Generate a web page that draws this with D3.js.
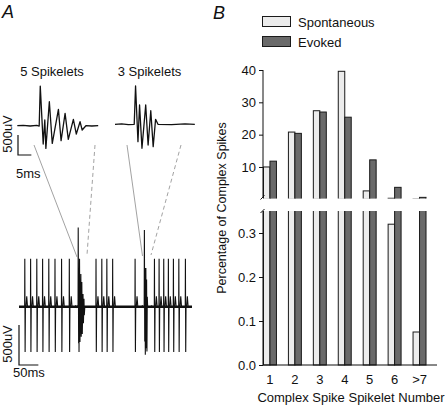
<!DOCTYPE html>
<html><head><meta charset="utf-8">
<script src="https://cdn.jsdelivr.net/npm/d3@7"></script>
<style>
html,body{margin:0;padding:0;background:#fff;}
svg{display:block;font-family:"Liberation Sans",Arial,Helvetica,sans-serif;}
</style></head><body>
<svg id="c" width="448" height="405"></svg>
<script>
// ---------- Panel B data ----------
const categories = ["1","2","3","4","5","6",">7"];
const seriesNames = ["Spontaneous","Evoked"];
const spontaneous = [10.0, 20.8, 27.4, 39.6, 2.6, 0.32, 0.075];
const evoked = [11.8, 20.4, 27.0, 25.4, 12.2, 3.7, 0.6];
const upperTicks = [10, 20, 30, 40];
const lowerTicks = [0.0, 0.1, 0.2, 0.3];

// ---------- Panel A data (time in ms, voltage in uV) ----------
const cs5Time = [0, 2.2, 4.8, 7.3, 8.2, 8.6, 9.7, 10.3, 10.7, 12.0, 13.1, 15.4, 16.4, 17.9, 19.1, 21.0, 22.1, 23.5, 24.3, 25.7, 27.9, 30.3];
const cs5Volt = [0, 10, -8, 10, -8, 990, -458, 142, -567, 600, -442, 408, -375, 308, -342, 158, -208, 100, -108, 0, -8, 0];
const cs3Time = [0, 2.5, 5.0, 7.2, 7.7, 8.6, 9.2, 10.1, 11.5, 12.4, 13.4, 14.3, 15.2, 16.1, 21.2, 26.2, 29.9];
const cs3Volt = [0, 10, -8, 0, 958, -435, 483, -600, 483, -518, 340, -560, 125, 0, -8, 10, 0];
const simpleSpikeTimes = [15, 30, 46, 61, 77, 93, 110, 130, 199, 214, 227, 242, 300, 350, 362, 374, 386, 399, 413, 430];
const complexSpikeTimes = [153, 324];
const simpleShapeTime = [-0.4, 0, 0.8, 1.6, 3, 5, 7];
const simpleShapeVolt = [0, 600, -565, 0, 0, 130, 0];
const traceDuration = 447;
const insetLabels = ["5 Spikelets", "3 Spikelets"];

const svg = d3.select("#c");
const ink = "#111";

// ================= Panel A =================
svg.append("text").attr("x", 2).attr("y", 18).attr("font-size", 18).attr("font-style", "italic").attr("fill", ink).text("A");

const insets = [
  {time: cs5Time, volt: cs5Volt, x0: 17.3, base: 125.7, label: insetLabels[0], lx: 52},
  {time: cs3Time, volt: cs3Volt, x0: 115, base: 124.3, label: insetLabels[1], lx: 149.5}
];
const pxPerMsInset = 2.67, pxPerUvInset = 0.04;
insets.forEach(ins => {
  const dur = d3.max(ins.time);
  const x = d3.scaleLinear().domain([0, dur]).range([ins.x0, ins.x0 + dur * pxPerMsInset]);
  const y = d3.scaleLinear().domain([-600, 1000]).range([ins.base + 600 * pxPerUvInset, ins.base - 1000 * pxPerUvInset]);
  const line = d3.line().x(d => x(d[0])).y(d => y(d[1]));
  svg.append("path").attr("d", line(d3.zip(ins.time, ins.volt)))
    .attr("fill", "none").attr("stroke", ink).attr("stroke-width", 1.3).attr("stroke-linejoin", "round");
  svg.append("text").attr("x", ins.lx).attr("y", 76).attr("text-anchor", "middle").attr("font-size", 13).attr("fill", ink).text(ins.label);
});

// inset scale bar
{
  const bx = 18, by = 155;
  svg.append("path").attr("d", `M${bx},${by - 500 * pxPerUvInset}V${by}H${bx + 5 * pxPerMsInset}`)
    .attr("fill", "none").attr("stroke", ink).attr("stroke-width", 1.2);
  svg.append("text").attr("transform", `translate(12,${by - 21}) rotate(-90)`).attr("text-anchor", "middle")
    .attr("font-size", 13).attr("fill", ink).text("500uV");
  svg.append("text").attr("x", 16).attr("y", 178).attr("font-size", 13).attr("fill", ink).text("5ms");
}

// long trace
const xL = d3.scaleLinear().domain([0, traceDuration]).range([19, 19 + traceDuration * 0.387]);
const yL = d3.scaleLinear().domain([-600, 1000]).range([306.7 + 600 * 0.08, 306.7 - 1000 * 0.08]);
const csWaves = [{time: cs5Time, volt: cs5Volt}, {time: cs3Time, volt: cs3Volt}];
const events = [];
simpleSpikeTimes.forEach(t => events.push({t, time: simpleShapeTime, volt: simpleShapeVolt, off: 0}));
complexSpikeTimes.forEach((t, i) => {
  const w = csWaves[i];
  events.push({t, time: w.time, volt: w.volt, off: w.time[d3.maxIndex(w.volt)]});
});
events.sort((a, b) => a.t - b.t);
const pts = [[0, 0]];
events.forEach(e => e.time.forEach((dt, j) => pts.push([e.t + dt - e.off, e.volt[j]])));
pts.push([traceDuration, 0]);
const lineL = d3.line().x(d => xL(d[0])).y(d => yL(d[1]));
svg.append("path").attr("d", lineL([[0, 0], [traceDuration, 0]]))
  .attr("stroke", ink).attr("stroke-width", 2.4).attr("fill", "none");
svg.append("path").attr("d", lineL(pts)).attr("fill", "none").attr("stroke", ink).attr("stroke-width", 1.1);

// long trace scale bar
{
  const bx = 19, by = 365;
  svg.append("path").attr("d", `M${bx},${by - 500 * 0.08}V${by}H${bx + 50 * 0.387}`)
    .attr("fill", "none").attr("stroke", ink).attr("stroke-width", 1.2);
  svg.append("text").attr("transform", `translate(12,${by - 21}) rotate(-90)`).attr("text-anchor", "middle")
    .attr("font-size", 13).attr("fill", ink).text("500uV");
  svg.append("text").attr("x", 13).attr("y", 377).attr("font-size", 13).attr("fill", ink).text("50ms");
}

// connectors
const conn = [
  {x1: 34, y1: 145, x2: 77, y2: 257, dash: null},
  {x1: 95, y1: 145, x2: 87, y2: 255, dash: "4,3"},
  {x1: 127, y1: 145, x2: 142.5, y2: 256, dash: null},
  {x1: 181, y1: 145, x2: 151, y2: 255, dash: "4,3"}
];
conn.forEach(c => svg.append("line").attr("x1", c.x1).attr("y1", c.y1).attr("x2", c.x2).attr("y2", c.y2)
  .attr("stroke", "#8a8a8a").attr("stroke-width", 0.8).attr("stroke-dasharray", c.dash));

// ================= Panel B =================
svg.append("text").attr("x", 213).attr("y", 19).attr("font-size", 18).attr("font-style", "italic").attr("fill", ink).text("B");

const colors = {Spontaneous: "#ececec", Evoked: "#6a6a6a"};
const x0 = d3.scaleBand().domain(categories).range([257.5, 432]).paddingInner(0.48).paddingOuter(0.24);
const x1 = d3.scaleBand().domain(seriesNames).range([0, x0.bandwidth()]);
const yU = d3.scaleLinear().domain([0, 40]).range([199.3, 70]);
const yLo = d3.scaleLinear().domain([0, 0.35]).range([365, 211]);
const axisX = 263;

const defs = svg.append("defs");
defs.append("clipPath").attr("id", "clipU").append("rect").attr("x", 240).attr("y", 50).attr("width", 208).attr("height", 148.5);
defs.append("clipPath").attr("id", "clipL").append("rect").attr("x", 240).attr("y", 211).attr("width", 208).attr("height", 160);

const rows = categories.map((c, i) => ({cat: c, Spontaneous: spontaneous[i], Evoked: evoked[i]}));
[["clipU", yU], ["clipL", yLo]].forEach(([clip, ys]) => {
  const g = svg.append("g").attr("clip-path", `url(#${clip})`);
  rows.forEach(r => seriesNames.forEach(s => {
    g.append("rect").attr("x", x0(r.cat) + x1(s)).attr("width", x1.bandwidth())
      .attr("y", ys(r[s])).attr("height", ys(0) - ys(r[s]))
      .attr("fill", colors[s]).attr("stroke", "#1a1a1a").attr("stroke-width", 1);
  }));
});

// y axes
function yAxis(scale, ticks, fmt) {
  const g = svg.append("g").attr("transform", `translate(${axisX},0)`)
    .call(d3.axisLeft(scale).tickValues(ticks).tickFormat(fmt).tickSize(4).tickPadding(3));
  g.select(".domain").remove();
  g.selectAll("line").attr("stroke", ink);
  g.selectAll("text").attr("font-size", 13).attr("fill", ink).attr("font-family", "Liberation Sans, Arial, sans-serif");
}
yAxis(yU, upperTicks, d3.format("d"));
yAxis(yLo, lowerTicks, d3.format(".1f"));
svg.append("line").attr("x1", axisX).attr("x2", axisX).attr("y1", yU(40)).attr("y2", 197.5).attr("stroke", ink);
svg.append("line").attr("x1", axisX).attr("x2", axisX).attr("y1", 211).attr("y2", yLo(0)).attr("stroke", ink);
// break marks
svg.append("line").attr("x1", 260.5).attr("y1", 199.5).attr("x2", 264.5).attr("y2", 195.5).attr("stroke", ink);
svg.append("line").attr("x1", 260.5).attr("y1", 213).attr("x2", 264.5).attr("y2", 209).attr("stroke", ink);

// x axis
{
  const g = svg.append("g").attr("transform", `translate(0,${yLo(0)})`)
    .call(d3.axisBottom(x0).tickSize(0).tickPadding(10));
  g.select(".domain").remove();
  g.selectAll("text").attr("font-size", 13).attr("fill", ink).attr("font-family", "Liberation Sans, Arial, sans-serif");
  svg.append("line").attr("x1", axisX).attr("x2", 437).attr("y1", yLo(0)).attr("y2", yLo(0)).attr("stroke", ink);
}

svg.append("text").attr("x", 351).attr("y", 402).attr("text-anchor", "middle").attr("font-size", 13).attr("fill", ink)
  .text("Complex Spike Spikelet Number");
svg.append("text").attr("transform", "translate(226,208) rotate(-90)").attr("text-anchor", "middle")
  .attr("font-size", 12.5).attr("fill", ink).text("Percentage of Complex Spikes");

// legend
seriesNames.forEach((s, i) => {
  svg.append("rect").attr("x", 262.5).attr("y", 16.5 + i * 20).attr("width", 28).attr("height", 10)
    .attr("fill", colors[s]).attr("stroke", "#1a1a1a").attr("stroke-width", 1);
  svg.append("text").attr("x", 298).attr("y", 26.5 + i * 20).attr("font-size", 13).attr("fill", ink).text(s);
});
</script>
</body></html>
